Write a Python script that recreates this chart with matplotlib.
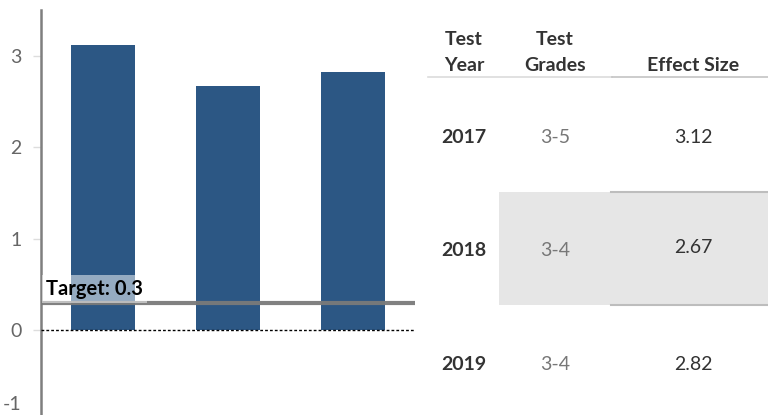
import matplotlib.pyplot as plt
from matplotlib.transforms import ScaledTranslation

plt.rcParams['font.family'] = ['Lato', 'DejaVu Sans']

# data
years = ['2017', '2018', '2019']
grades = ['3-5', '3-4', '3-4']
effect_size = [3.12, 2.67, 2.82]
target = 0.3
y_ticks = [-1, 0, 1, 2, 3]

W, H = 768, 415
fig = plt.figure(figsize=(W / 100, H / 100), dpi=100)

# bar chart (left part)
ax = fig.add_axes([41 / W, (H - 421.5) / H, (415 - 41) / W, (421.5 - 10) / H])
x = list(range(len(years)))
ax.bar(x, effect_size, width=0.515, color='#2c5784', zorder=2)
ax.set_xlim(-0.5, 2.5)
ax.set_ylim(-1, 3.5)
ax.axhline(0, color='black', lw=1, ls=(0, (2, 1.5)), zorder=3)
ax.axhline(target, color='#7a7a7a', lw=3, alpha=0.95, zorder=4)
ax.text(-0.46, target + 0.04, f'Target: {target}', fontsize=14.5, fontweight='bold',
        color='black', va='bottom', ha='left', zorder=5,
        bbox=dict(boxstyle='square,pad=0.2', fc='white', ec='none', alpha=0.5))

ax.set_yticks(y_ticks)
ax.set_yticklabels([str(t) for t in y_ticks])
ax.set_xticks([])
ax.tick_params(axis='y', length=6, width=1, color='#dddddd', labelcolor='#666666',
               labelsize=14, pad=8)
for lab in ax.get_yticklabels():
    if lab.get_text() == '-1':
        lab.set_transform(lab.get_transform() + ScaledTranslation(0, 19 / 100, fig.dpi_scale_trans))
for s in ['top', 'right', 'bottom']:
    ax.spines[s].set_visible(False)
ax.spines['left'].set_color('#7f7f7f')
ax.spines['left'].set_linewidth(1.8)
ax.spines['left'].set_bounds(-1.2, 3.5)

# table (right part)
tx = fig.add_axes([420 / W, 0, (W - 420) / W, 1])
row_px0, row_step = 135, 113.5
tx.set_xlim(420, W)
tx.set_ylim((H - row_px0) / row_step, -row_px0 / row_step)
tx.axis('off')

col_year, col_grade, col_eff = 464, 555, 693
fs = 14
hdr_kw = dict(fontsize=fs, fontweight='bold', color='#333333', ha='center', va='center')
tx.text(col_year, -0.84, 'Test', **hdr_kw)
tx.text(col_year, -0.61, 'Year', **hdr_kw)
tx.text(col_grade, -0.84, 'Test', **hdr_kw)
tx.text(col_grade, -0.61, 'Grades', **hdr_kw)
tx.text(col_eff, -0.61, 'Effect Size', **hdr_kw)
tx.plot([428, 612], [-0.51, -0.51], color='#dcdcdc', lw=1.2)
tx.plot([612, W], [-0.51, -0.51], color='#c4c4c4', lw=1.2)

# highlighted 2018 row
hi = 1
tx.fill_between([499, W], hi - 0.5, hi + 0.5, color='#e6e6e6', lw=0, zorder=0)
tx.plot([611, W], [hi - 0.5, hi - 0.5], color='#bdbdbd', lw=1.5)
tx.plot([611, W], [hi + 0.5, hi + 0.5], color='#bdbdbd', lw=1.5)

for i, (yr, gr, ef) in enumerate(zip(years, grades, effect_size)):
    yy = i + 0.02
    tx.text(col_year, yy, yr, fontsize=fs, fontweight='bold', color='#333333',
            ha='center', va='center')
    tx.text(col_grade, yy, gr, fontsize=fs, color='#777777', ha='center', va='center')
    tx.text(col_eff, yy - (0.03 if i == hi else 0), f'{ef:.2f}', fontsize=fs,
            color='#333333', ha='center', va='center')

fig.savefig('out.png', dpi=100)
